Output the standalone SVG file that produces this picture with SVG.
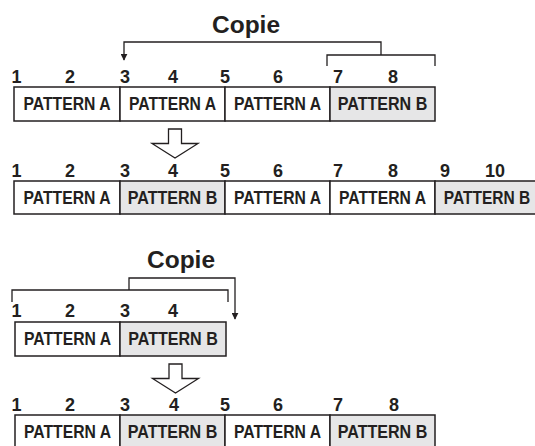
<svg xmlns="http://www.w3.org/2000/svg" width="535" height="446" viewBox="0 0 535 446">
<defs>
<style>
.cellA{fill:#ffffff;stroke:#231f20;stroke-width:1.5}
.cellB{fill:#e6e6e7;stroke:#231f20;stroke-width:1.5}
.lbl{font-family:"Liberation Sans",Arial,sans-serif;font-weight:bold;font-size:18.5px;fill:#231f20;text-anchor:middle}
.num{font-family:"Liberation Sans",Arial,sans-serif;font-weight:bold;font-size:18px;fill:#231f20;text-anchor:middle}
.title{font-family:"Liberation Sans",Arial,sans-serif;font-weight:bold;font-size:24.5px;fill:#231f20}
.ln{fill:none;stroke:#231f20;stroke-width:1.3}
.hollow{fill:#ffffff;stroke:#231f20;stroke-width:1.3;stroke-linejoin:miter}
</style>
<marker id="ah" viewBox="0 0 10 10" refX="9" refY="5" markerWidth="7" markerHeight="7" markerUnits="userSpaceOnUse" orient="auto">
<path d="M0,0 L10,5 L0,10 z" fill="#231f20"/>
</marker>
</defs>

<text class="title" x="212" y="33">Copie</text>
<text class="title" x="147" y="268">Copie</text>

<g id="connectors">
<path class="ln" d="M381,55 V42 H124 V60" marker-end="url(#ah)"/>
<path class="ln" d="M327,66 V55 H435 V66"/>
<path class="hollow" d="M168.5,129 H181.5 V143.5 H198 L175,158 L152,143.5 H168.5 Z"/>
<path class="ln" d="M12,302 V290 H228 V302"/>
<path class="ln" d="M129,290 V278 H235 V319" marker-end="url(#ah)"/>
<path class="hollow" d="M169,364 H182 V378.5 H198.5 L175.5,393 L152.5,378.5 H169 Z"/>
</g>

<g id="row1">
<g id="r1-n"><text class="num" x="16.5" y="83">1</text><text class="num" x="70" y="83">2</text><text class="num" x="125" y="83">3</text><text class="num" x="173" y="83">4</text><text class="num" x="225" y="83">5</text><text class="num" x="278" y="83">6</text><text class="num" x="338" y="83">7</text><text class="num" x="393" y="83">8</text></g>
<g id="r1-c1"><rect class="cellA" x="14" y="87" width="106" height="34"/><text class="lbl" transform="translate(67,110) scale(0.85,1)">PATTERN A</text></g>
<g id="r1-c2"><rect class="cellA" x="120" y="87" width="105" height="34"/><text class="lbl" transform="translate(172.5,110) scale(0.85,1)">PATTERN A</text></g>
<g id="r1-c3"><rect class="cellA" x="225" y="87" width="105" height="34"/><text class="lbl" transform="translate(277.5,110) scale(0.85,1)">PATTERN A</text></g>
<g id="r1-c4"><rect class="cellB" x="330" y="87" width="105" height="34"/><text class="lbl" transform="translate(382.5,110) scale(0.87,1)">PATTERN B</text></g>
</g>

<g id="row2">
<g id="r2-n"><text class="num" x="16.5" y="177">1</text><text class="num" x="70" y="177">2</text><text class="num" x="125" y="177">3</text><text class="num" x="173" y="177">4</text><text class="num" x="225" y="177">5</text><text class="num" x="278" y="177">6</text><text class="num" x="338" y="177">7</text><text class="num" x="393" y="177">8</text><text class="num" x="445" y="177">9</text><text class="num" x="495" y="177">10</text></g>
<g id="r2-c1"><rect class="cellA" x="14" y="181" width="106" height="33"/><text class="lbl" transform="translate(67,203.5) scale(0.85,1)">PATTERN A</text></g>
<g id="r2-c2"><rect class="cellB" x="120" y="181" width="105" height="33"/><text class="lbl" transform="translate(172.5,203.5) scale(0.87,1)">PATTERN B</text></g>
<g id="r2-c3"><rect class="cellA" x="225" y="181" width="105" height="33"/><text class="lbl" transform="translate(277.5,203.5) scale(0.85,1)">PATTERN A</text></g>
<g id="r2-c4"><rect class="cellA" x="330" y="181" width="105" height="33"/><text class="lbl" transform="translate(382.5,203.5) scale(0.85,1)">PATTERN A</text></g>
<g id="r2-c5"><rect class="cellB" x="435" y="181" width="101" height="33"/><text class="lbl" transform="translate(487,203.5) scale(0.84,1)">PATTERN B</text></g>
</g>

<g id="row3">
<g id="r3-n"><text class="num" x="16.5" y="317">1</text><text class="num" x="70" y="317">2</text><text class="num" x="125" y="317">3</text><text class="num" x="173" y="317">4</text></g>
<g id="r3-c1"><rect class="cellA" x="15" y="322" width="105" height="34"/><text class="lbl" transform="translate(67.5,345) scale(0.85,1)">PATTERN A</text></g>
<g id="r3-c2"><rect class="cellB" x="120" y="322" width="106" height="34"/><text class="lbl" transform="translate(173,345) scale(0.87,1)">PATTERN B</text></g>
</g>

<g id="row4">
<g id="r4-n"><text class="num" x="16.5" y="411">1</text><text class="num" x="70" y="411">2</text><text class="num" x="125" y="411">3</text><text class="num" x="174" y="411">4</text><text class="num" x="225" y="411">5</text><text class="num" x="278" y="411">6</text><text class="num" x="338" y="411">7</text><text class="num" x="394" y="411">8</text></g>
<g id="r4-c1"><rect class="cellA" x="15" y="415" width="105" height="35"/><text class="lbl" transform="translate(67.5,438) scale(0.85,1)">PATTERN A</text></g>
<g id="r4-c2"><rect class="cellB" x="120" y="415" width="105" height="35"/><text class="lbl" transform="translate(172.5,438) scale(0.87,1)">PATTERN B</text></g>
<g id="r4-c3"><rect class="cellA" x="225" y="415" width="105" height="35"/><text class="lbl" transform="translate(277.5,438) scale(0.85,1)">PATTERN A</text></g>
<g id="r4-c4"><rect class="cellB" x="330" y="415" width="105" height="35"/><text class="lbl" transform="translate(382.5,438) scale(0.87,1)">PATTERN B</text></g>
</g>
</svg>
